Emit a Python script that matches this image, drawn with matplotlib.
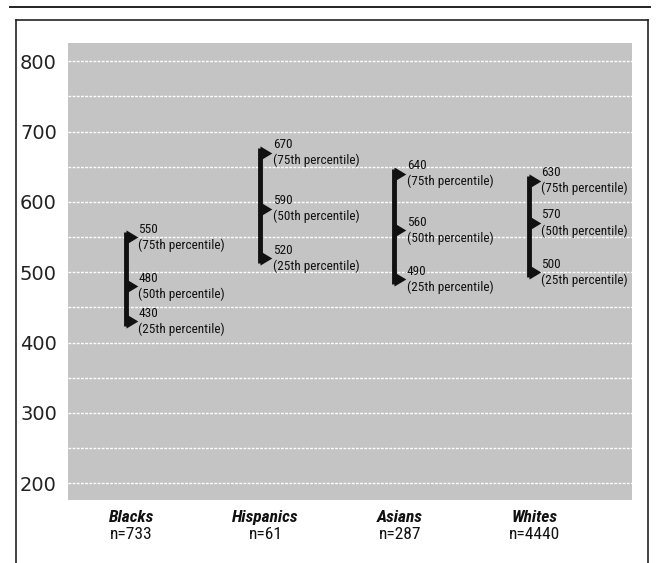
import matplotlib
matplotlib.use("Agg")
import matplotlib.pyplot as plt
from matplotlib import font_manager
from matplotlib.path import Path
from matplotlib.lines import Line2D

# ---- data ----
groups = ["Blacks", "Hispanics", "Asians", "Whites"]
counts = ["n=733", "n=61", "n=287", "n=4440"]
p25 = [430, 520, 490, 500]
p50 = [480, 590, 560, 570]
p75 = [550, 670, 640, 630]
pct_labels = ["(25th percentile)", "(50th percentile)", "(75th percentile)"]
yticks = [200, 300, 400, 500, 600, 700, 800]

names = {f.name for f in font_manager.fontManager.ttflist}
narrow, nsize = "Lato", 8.6
for cand, sz in [("Liberation Sans Narrow", 10), ("DejaVu Sans Condensed", 8.6),
                 ("Roboto Condensed", 9.5), ("Open Sans Condensed", 9.5)]:
    if cand in names:
        narrow, nsize = cand, sz
        break
plain = "DejaVu Sans"

W, H = 656, 563
fig = plt.figure(figsize=(W / 100, H / 100), dpi=100)
fig.patch.set_facecolor("white")

ax = fig.add_axes([68 / W, 1 - 500 / H, 564 / W, 457 / H])
ax.set_facecolor("#c4c4c4")
ax.set_ylim(176, 826)
ax.set_xlim(-0.432, 3.77)
for s in ax.spines.values():
    s.set_visible(False)
ax.set_xticks([])
ax.set_yticks(yticks)
ax.set_yticklabels([str(v) for v in yticks], fontsize=14, family=plain, color="#222222")
ax.tick_params(axis="y", length=0, pad=8)
for v in range(200, 801, 50):
    ax.axhline(v, color="white", lw=1.0, ls=(0, (2, 1)), zorder=1)

tri = Path([(0, -0.6), (0, 0.6), (1, 0), (0, -0.6)],
           [Path.MOVETO, Path.LINETO, Path.LINETO, Path.CLOSEPOLY])

for i, g in enumerate(groups):
    vals = [p25[i], p50[i], p75[i]]
    ax.vlines(i, min(vals) - 7, max(vals) + 7, color="#111111", lw=3.5, zorder=3)
    ax.plot([i] * 3, vals, ls="none", marker=tri, markersize=17,
            color="#111111", markeredgewidth=0, zorder=4)
    for v, lab in zip(vals, pct_labels):
        ax.annotate(f"{v}\n{lab}", (i, v), xytext=(9, 0), textcoords="offset points",
                    ha="left", va="center", fontsize=nsize, family=narrow,
                    color="#111111", linespacing=1.25, zorder=5)
    ax.text(i + 0.04, -0.022, g, transform=ax.get_xaxis_transform(),
            ha="center", va="top", fontsize=12.5, family=narrow,
            fontweight="bold", fontstyle="italic", color="#111111")
    ax.text(i + 0.04, -0.058, counts[i], transform=ax.get_xaxis_transform(),
            ha="center", va="top", fontsize=12.5, family=narrow, color="#111111")

# frame and top rule (figure pixel coords)
def fl(x0, y0, x1, y1, lw, c="#222222"):
    fig.add_artist(Line2D([x0 / W, x1 / W], [1 - y0 / H, 1 - y1 / H],
                          transform=fig.transFigure, color=c, lw=lw))

fl(10, 7, 650, 7, 1.4)
fl(16, 20, 648, 20, 1.2)
fl(16, 20, 16, 563, 1.2)
fl(648, 20, 648, 563, 1.2)

fig.savefig("out.png", dpi=100, facecolor="white")
